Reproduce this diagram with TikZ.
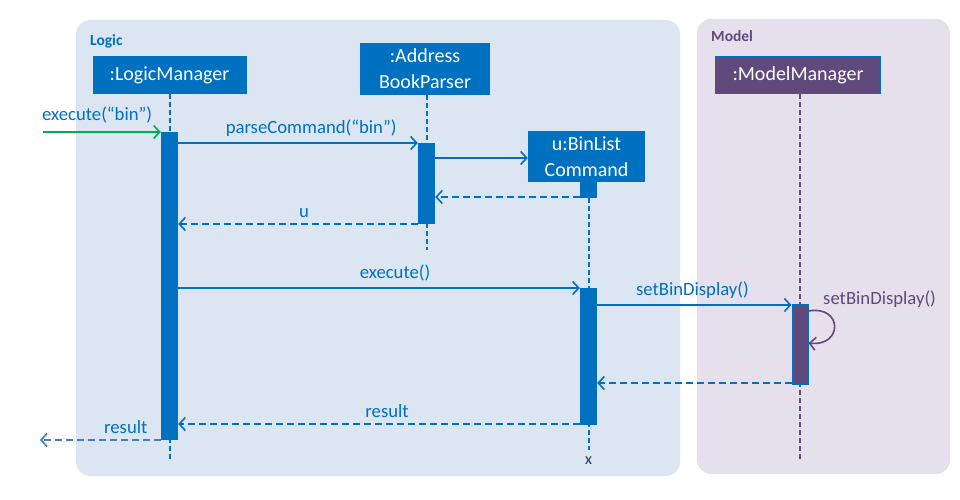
\documentclass[tikz,border=0pt]{standalone}
\usepackage{fontspec}
\setmainfont{Carlito}
\usetikzlibrary{arrows.meta,positioning}
\definecolor{LogicBlue}{HTML}{0070C0}
\definecolor{LogicBack}{HTML}{DCE6F2}
\definecolor{ModelBack}{HTML}{E6E0EC}
\definecolor{ModelPurple}{HTML}{604A7B}
\definecolor{CallGreen}{HTML}{00B050}
\definecolor{ResultBlue}{HTML}{4A7EBB}
\definecolor{EndNavy}{HTML}{203864}
\begin{document}
\begin{tikzpicture}
   [x=1pt,y=-1pt,
   frame/.style={rounded corners=14pt},
   framelabel/.style={anchor=west,inner sep=0pt,font=\fontsize{15.5}{18}\selectfont\bfseries},
   objbox/.style={fill=LogicBlue,text=white,inner sep=0pt,align=center,font=\fontsize{20}{26}\selectfont},
   lifeline/.style={LogicBlue,line width=2pt,dash pattern=on 5pt off 3pt},
   bar/.style={fill=LogicBlue,inner sep=0pt,minimum width=17pt,anchor=north},
   msg/.style={-{Straight Barb[length=6pt,width=13pt]},LogicBlue,line width=1.6pt},
   ret/.style={msg,dash pattern=on 7pt off 4pt},
   lbl/.style={above,inner sep=2pt,yshift=4pt,text=LogicBlue,font=\fontsize{18.7}{22}\selectfont}]
    \useasboundingbox (0,0) rectangle (960,500);
    \fill[frame,LogicBack] (76,20) rectangle (680,476);
    \fill[frame,ModelBack] (697,19) rectangle (950,474);
    \node[framelabel,text=LogicBlue] (logic) at (90,41) {Logic};
    \node[framelabel,text=ModelPurple] (model) at (711,36) {Model};
    \node[objbox,minimum width=154pt,minimum height=38pt] (lm) at (169.5,75) {:LogicManager};
    \node[objbox,minimum width=130pt,minimum height=52pt] (abp) at (425,69) {:Address\\BookParser};
    \node[objbox,minimum width=117pt,minimum height=51pt] (bl) at (586.5,156.5) {u:BinList\\Command};
    \node[objbox,fill=ModelPurple,draw=LogicBlue,line width=1.5pt,minimum width=165pt,minimum height=37pt] (mm) at (798,75) {:ModelManager};
    \coordinate (lmend) at (169.5,460);
    \coordinate (abpend) at (426.5,250);
    \coordinate (blend) at (588.5,450);
    \coordinate (mmend) at (800,460);
    \draw[lifeline] (lm.south) -- (lmend);
    \draw[lifeline] (abp.south -| abpend) -- (abpend);
    \draw[lifeline] (bl.south -| blend) -- (blend);
    \draw[lifeline,ModelPurple] (mm.south -| mmend) -- (mmend);
    \node[text=EndNavy,font=\fontsize{16}{18}\selectfont] (blx) at (588.5,461) {x};
    \node[bar,minimum height=308pt] (lmbar) at (169.5,132) {};
    \node[bar,minimum height=81pt] (abpbar) at (426.5,143) {};
    \node[bar,minimum height=16pt] (blhead) at (bl.south -| blend) {};
    \node[bar,minimum height=137pt] (blbar) at (588.5,288) {};
    \node[bar,fill=ModelPurple,draw=LogicBlue,line width=1pt,minimum width=16pt,minimum height=80pt] (mmbar) at (800,304) {};
    \coordinate (caller) at (43,132);
    \coordinate (back) at (40,440);
    \draw[msg,CallGreen] (caller) -- (lmbar.west |- caller)
       node[lbl,pos=0.46,yshift=2pt] {execute(“bin”)};
    \draw[msg] (lmbar.east |- 0,143) -- (abpbar.west |- 0,143)
       node[lbl,pos=0.555] {parseCommand(“bin”)};
    \draw[msg] (abpbar.east |- 0,158) -- (bl.west |- 0,158);
    \draw[ret] (blhead.west |- 0,197) -- (abpbar.east |- 0,197);
    \draw[ret] (abpbar.west |- 0,224) -- (lmbar.east |- 0,224)
       node[lbl,pos=0.475] {u};
    \draw[msg] (lmbar.east |- 0,288) -- (blbar.west |- 0,288)
       node[lbl,pos=0.54] {execute()};
    \draw[msg] (blbar.east |- 0,305) -- (mmbar.west |- 0,305)
       node[lbl,pos=0.49] {setBinDisplay()};
    \draw[msg,ModelPurple] (mmbar.east |- 0,311) .. controls (843,305) and (843,347) .. (mmbar.east |- 0,343);
    \node[lbl,anchor=west,yshift=-2pt,text=ModelPurple] (selfcall) at (821,301) {setBinDisplay()};
    \draw[ret] (mmbar.west |- 0,383) -- (blbar.east |- 0,383);
    \draw[ret] (blbar.west |- 0,424) -- (lmbar.east |- 0,424)
       node[lbl,pos=0.48] {result};
    \draw[ret,ResultBlue] (lmbar.west |- back) -- (back)
       node[lbl,pos=0.29,text=LogicBlue] {result};
\end{tikzpicture}
\end{document}
